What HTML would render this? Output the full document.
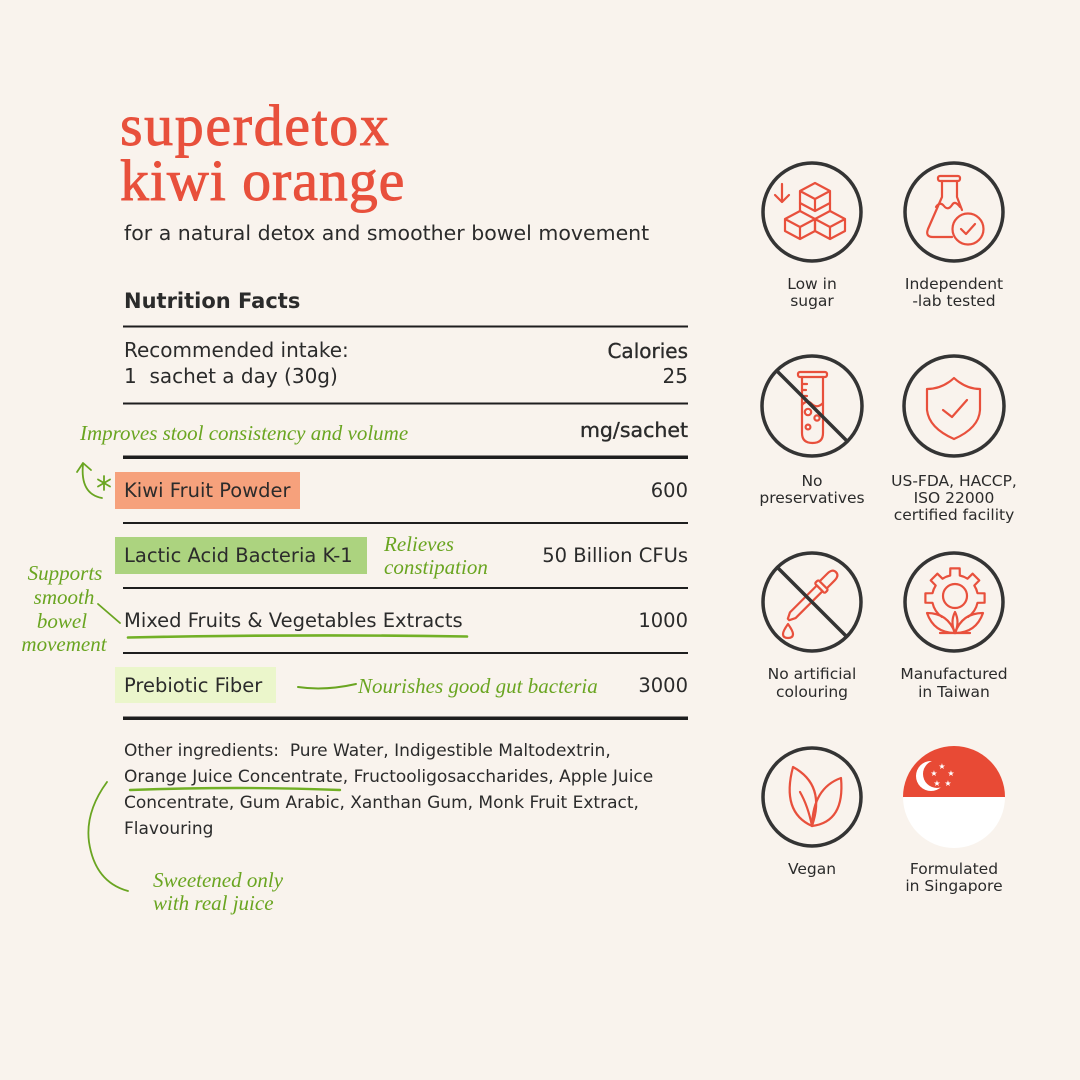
<!DOCTYPE html>
<html><head><meta charset="utf-8"><style>
html,body{margin:0;padding:0;background:#f9f3ed;}
svg{display:block;}
.t{font-family:"DejaVu Sans","Liberation Sans",sans-serif;fill:#2b2b2b;}
.h{font-family:"Liberation Serif",serif;font-style:italic;fill:#6aa521;}
.ic{fill:none;stroke:#e8503c;stroke-width:2.2;stroke-linecap:round;stroke-linejoin:round;}
.cc{fill:none;stroke:#343434;stroke-width:3.5;}
</style></head><body>
<svg width="1080" height="1080" viewBox="0 0 1080 1080" xmlns="http://www.w3.org/2000/svg">
<rect x="0" y="0" width="1080" height="1080" fill="#f9f3ed"/>

<!-- Title -->
<text x="120" y="145" font-family="Liberation Serif, serif" font-size="58" fill="#e8503c" stroke="#e8503c" stroke-width="0.9" letter-spacing="1.6">superdetox</text>
<text x="120" y="200" font-family="Liberation Serif, serif" font-size="58" fill="#e8503c" stroke="#e8503c" stroke-width="0.9" letter-spacing="0.9">kiwi orange</text>
<text class="t" x="124" y="240" font-size="20.5">for a natural detox and smoother bowel movement</text>

<text class="t" x="124" y="308" font-size="21" font-weight="bold" fill="#262626">Nutrition Facts</text>

<!-- rules -->
<rect x="123" y="325.5" width="565" height="2" fill="#1e1e1e"/>
<rect x="123" y="402.5" width="565" height="2" fill="#1e1e1e"/>
<rect x="123" y="455.5" width="565" height="3.5" fill="#1e1e1e"/>
<rect x="123" y="522" width="565" height="2" fill="#1e1e1e"/>
<rect x="123" y="587" width="565" height="2" fill="#1e1e1e"/>
<rect x="123" y="652" width="565" height="2" fill="#1e1e1e"/>
<rect x="123" y="716.5" width="565" height="3.5" fill="#1e1e1e"/>

<text class="t" x="124" y="357" font-size="20">Recommended intake:</text>
<text class="t" x="124" y="383" font-size="20">1 &#160;sachet a day (30g)</text>
<text class="t" x="688" y="358" font-size="20" text-anchor="end" style="stroke:#2b2b2b;stroke-width:0.35">Calories</text>
<text class="t" x="688" y="383" font-size="20" text-anchor="end">25</text>

<text class="t" x="688" y="437" font-size="20.5" text-anchor="end" style="stroke:#2b2b2b;stroke-width:0.35">mg/sachet</text>
<text class="h" x="80" y="440" font-size="21">Improves stool consistency and volume</text>

<!-- boxes -->
<rect x="115" y="472" width="185" height="37" fill="#f6a17c"/>
<rect x="115" y="537" width="252" height="37" fill="#acd37f"/>
<rect x="115" y="667" width="161" height="36" fill="#ebf6cb"/>

<text class="t" x="124" y="497" font-size="19.5">Kiwi Fruit Powder</text>
<text class="t" x="688" y="497" font-size="19.5" text-anchor="end">600</text>
<text class="t" x="124" y="562" font-size="19.5">Lactic Acid Bacteria K-1</text>
<text class="t" x="688" y="562" font-size="19.5" text-anchor="end">50 Billion CFUs</text>
<text class="h" x="384" y="551" font-size="21">Relieves</text>
<text class="h" x="384" y="574" font-size="21">constipation</text>
<text class="t" x="124" y="627" font-size="19.5">Mixed Fruits &amp; Vegetables Extracts</text>
<text class="t" x="688" y="627" font-size="19.5" text-anchor="end">1000</text>
<path d="M128,637.5 Q300,634 467,636.5" stroke="#72b026" stroke-width="2.6" fill="none" stroke-linecap="round"/>
<text class="t" x="124" y="692" font-size="19.5">Prebiotic Fiber</text>
<text class="t" x="688" y="692" font-size="19.5" text-anchor="end">3000</text>
<path d="M298,687 Q325,691 356,684" stroke="#6aa521" stroke-width="2" fill="none" stroke-linecap="round"/>
<text class="h" x="358" y="693" font-size="21">Nourishes good gut bacteria</text>

<!-- left notes -->
<text class="h" x="65" y="580" font-size="21" text-anchor="middle">Supports</text>
<text class="h" x="64" y="604" font-size="21" text-anchor="middle">smooth</text>
<text class="h" x="62" y="628" font-size="21" text-anchor="middle">bowel</text>
<text class="h" x="64" y="651" font-size="21" text-anchor="middle">movement</text>
<path d="M98,604 L120,623" stroke="#6aa521" stroke-width="1.8" fill="none" stroke-linecap="round"/>
<!-- arrow near kiwi -->
<path d="M102,498 Q80,494 83,464" stroke="#6aa521" stroke-width="1.8" fill="none" stroke-linecap="round"/>
<path d="M77,472 L83,463 L91,470" stroke="#6aa521" stroke-width="1.8" fill="none" stroke-linecap="round" stroke-linejoin="round"/>
<g stroke="#6aa521" stroke-width="1.8" stroke-linecap="round">
<line x1="104" y1="476" x2="104" y2="490"/>
<line x1="98" y1="479.5" x2="110" y2="486.5"/>
<line x1="98" y1="486.5" x2="110" y2="479.5"/>
</g>

<!-- Other ingredients -->
<text class="t" x="124" y="756" font-size="17">Other ingredients:&#160; Pure Water, Indigestible Maltodextrin,</text>
<text class="t" x="124" y="782" font-size="17">Orange Juice Concentrate, Fructooligosaccharides, Apple Juice</text>
<text class="t" x="124" y="808" font-size="17">Concentrate, Gum Arabic, Xanthan Gum, Monk Fruit Extract,</text>
<text class="t" x="124" y="834" font-size="17">Flavouring</text>
<path d="M130,790 Q240,786 340,790" stroke="#72b026" stroke-width="2.4" fill="none" stroke-linecap="round"/>
<path d="M107,782 Q85,812 89,842 Q95,882 128,891" stroke="#6aa521" stroke-width="1.8" fill="none" stroke-linecap="round"/>
<text class="h" x="153" y="887" font-size="21">Sweetened only</text>
<text class="h" x="153" y="910" font-size="21">with real juice</text>

<!-- Icon circles -->
<circle class="cc" cx="812" cy="212" r="49"/>
<circle class="cc" cx="954" cy="212" r="49"/>
<circle class="cc" cx="812" cy="406" r="50"/>
<circle class="cc" cx="954" cy="406" r="50"/>
<circle class="cc" cx="812" cy="602" r="49"/>
<circle class="cc" cx="954" cy="602" r="49"/>
<circle class="cc" cx="812" cy="797" r="49"/>

<!-- icon 1: sugar cubes -->
<g class="ic">
<path d="M815,183 L830,191 L830,203 L815,211 L800,203 L800,191 Z M800,191 L815,199 L830,191 M815,199 L815,211"/>
<path d="M800,211 L815,219 L815,231 L800,239 L785,231 L785,219 Z M785,219 L800,227 L815,219 M800,227 L800,239"/>
<path d="M830,211 L845,219 L845,231 L830,239 L815,231 L815,219 Z M815,219 L830,227 L845,219 M830,227 L830,239"/>
<path d="M800,203 L800,211 M830,203 L830,211"/>
<path d="M782,184 L782,202 M775,195 L782,202 L789,195"/>
</g>
<!-- icon 2: flask -->
<g class="ic">
<rect x="938" y="176" width="22" height="5" rx="2"/>
<path d="M942,181 L942,197 L928,229 Q925,237 933,237 L952,237"/>
<path d="M957,181 L957,197 L962,210"/>
<path d="M936,207 Q940,201 944,206 Q948,211 952,205 Q955,200 960,207"/>
<circle cx="968" cy="229" r="15.5"/>
<path d="M961,229 L966,234 L975,224"/>
</g>
<!-- icon 3: test tube -->
<g class="ic">
<rect x="798" y="372" width="29" height="5" rx="2"/>
<path d="M802,377 L802,433 Q802,443 812.5,443 Q823,443 823,433 L823,377"/>
<path d="M802,384 L807,384 M802,390 L806,390 M802,396 L807,396"/>
<path d="M802,405 Q807,399 812,404 Q817,409 823,403"/>
<circle cx="808" cy="412" r="3.2"/>
<circle cx="817" cy="418" r="2.6"/>
<circle cx="808" cy="427" r="2.4"/>
</g>
<line x1="777" y1="371" x2="847" y2="441" stroke="#343434" stroke-width="3.5"/>
<!-- icon 4: shield -->
<g class="ic">
<path d="M954,378 Q942,389 927,389 L927,410 Q929,428 954,439 Q979,428 980,410 L980,389 Q966,389 954,378 Z"/>
<path d="M943,410 L952,417 L967,400"/>
</g>
<!-- icon 5: dropper -->
<g class="ic">
<g transform="translate(814,594) rotate(-45)">
<path d="M-30,-4 L8,-4 L8,4 L-30,4 L-36,1 L-36,-1 Z"/>
<rect x="8" y="-7" width="5" height="14" rx="1.5"/>
<path d="M13,-5 L24,-5 Q31,-5 31,0 Q31,5 24,5 L13,5"/>
</g>
<path d="M788,624 Q783,631 783,634 Q783,638 788,638 Q793,638 793,634 Q793,631 788,624 Z"/>
</g>
<line x1="777" y1="567" x2="847" y2="637" stroke="#343434" stroke-width="3.5"/>
<!-- icon 6: gear + plant -->
<g class="ic">
<path d="M968.2,616.8 A23,23 0 0 0 977.5,602.8 L984.6,602.7 L984.6,593.3 L977.5,593.2 A23,23 0 0 0 974.3,585.5 L979.3,580.4 L972.6,573.7 L967.5,578.7 A23,23 0 0 0 959.8,575.5 L959.7,568.4 L950.3,568.4 L950.2,575.5 A23,23 0 0 0 942.5,578.7 L937.4,573.7 L930.7,580.4 L935.7,585.5 A23,23 0 0 0 932.5,593.2 L925.4,593.3 L925.4,602.7 L932.5,602.8 A23,23 0 0 0 941.8,616.8"/>
<circle cx="955" cy="596" r="12"/>
<path d="M955,633 Q934,633 927,613 Q948,613 955,633 Z"/>
<path d="M955,633 Q976,633 983,613 Q962,613 955,633 Z"/>
<path d="M955,633 Q950,622 955,612 Q960,622 955,633"/>
<path d="M940,633 L970,633"/>
</g>
<!-- icon 7: leaves -->
<g class="ic">
<path d="M812,826 Q781,812 793,767 Q826,785 812,826 Z"/>
<path d="M812,826 Q845,822 841,778 Q813,788 812,826 Z"/>
<path d="M800,792 Q808,806 812,826"/>
</g>
<!-- Singapore flag -->
<clipPath id="fc"><circle cx="954" cy="797" r="51"/></clipPath>
<g clip-path="url(#fc)">
<rect x="900" y="744" width="110" height="54" fill="#e84a35"/>
<rect x="900" y="797" width="110" height="56" fill="#ffffff"/>
<circle cx="931" cy="776" r="15" fill="#ffffff"/>
<circle cx="937" cy="774" r="14" fill="#e84a35"/>
<g fill="#ffffff" font-family="DejaVu Sans, sans-serif" font-size="8" text-anchor="middle">
<text x="942" y="769">★</text>
<text x="951" y="776">★</text>
<text x="948" y="786">★</text>
<text x="937" y="786">★</text>
<text x="934" y="776">★</text>
</g>
</g>

<!-- icon labels -->
<g class="t" font-size="15.5" text-anchor="middle">
<text x="812" y="289">Low in</text>
<text x="812" y="306">sugar</text>
<text x="954" y="289">Independent</text>
<text x="954" y="306">-lab tested</text>
<text x="812" y="486">No</text>
<text x="812" y="503">preservatives</text>
<text x="954" y="486">US-FDA, HACCP,</text>
<text x="954" y="503">ISO 22000</text>
<text x="954" y="520">certified facility</text>
<text x="812" y="679">No artificial</text>
<text x="812" y="697">colouring</text>
<text x="954" y="679">Manufactured</text>
<text x="954" y="697">in Taiwan</text>
<text x="812" y="874">Vegan</text>
<text x="954" y="874">Formulated</text>
<text x="954" y="891">in Singapore</text>
</g>
</svg>
</body></html>
